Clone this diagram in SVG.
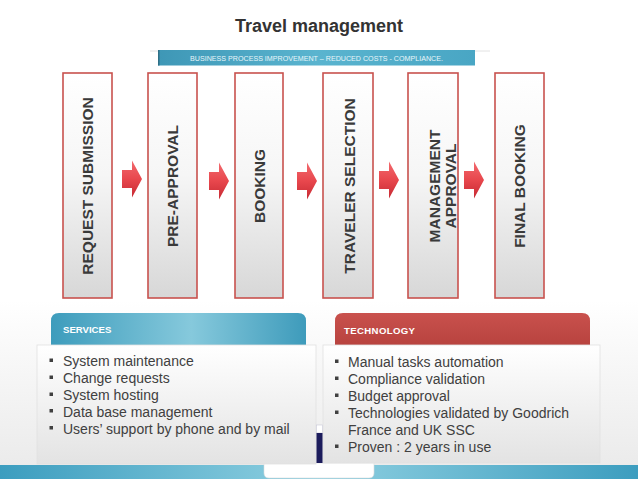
<svg xmlns="http://www.w3.org/2000/svg" width="638" height="479" viewBox="0 0 638 479">
<defs>
<style>
.title{font-family:"Liberation Sans",Arial,sans-serif;font-weight:bold;font-size:18px;fill:#333333}
.banner{font-family:"Liberation Sans",Arial,sans-serif;font-size:6.8px;fill:#e8f6fa}
.step{fill:url(#boxg);stroke:#c8524e;stroke-width:1.6}
.lbl{font-family:"Liberation Sans",Arial,sans-serif;font-weight:bold;font-size:15.5px;fill:#3a3a3a;text-anchor:middle}
.arrow{fill:url(#arrg)}
.hdr{font-family:"Liberation Sans",Arial,sans-serif;font-weight:bold;font-size:9.6px;fill:#ffffff}
.item{font-family:"Liberation Sans",Arial,sans-serif;font-size:14px;fill:#404040}
.bul{fill:#404040}
.panel{fill:url(#panelg);stroke:#e0e0e0;stroke-width:0.8}
</style>
<linearGradient id="boxg" x1="0" y1="0" x2="0" y2="1">
<stop offset="0" stop-color="#ffffff"/>
<stop offset="0.45" stop-color="#f6f6f6"/>
<stop offset="1" stop-color="#d7d7d7"/>
</linearGradient>
<linearGradient id="arrg" x1="0" y1="0" x2="0" y2="1">
<stop offset="0" stop-color="#f26a6e"/>
<stop offset="0.5" stop-color="#e8474d"/>
<stop offset="1" stop-color="#c62a33"/>
</linearGradient>
<linearGradient id="bang" x1="0" y1="0" x2="1" y2="0">
<stop offset="0" stop-color="#3e97b6"/>
<stop offset="0.5" stop-color="#5ab4cf"/>
<stop offset="1" stop-color="#49a6c4"/>
</linearGradient>
<linearGradient id="svcg" x1="0" y1="0" x2="1" y2="0">
<stop offset="0" stop-color="#3d9cbc"/>
<stop offset="0.55" stop-color="#86c9dc"/>
<stop offset="1" stop-color="#3e9bbb"/>
</linearGradient>
<linearGradient id="techg" x1="0" y1="0" x2="0" y2="1">
<stop offset="0" stop-color="#c9514d"/>
<stop offset="1" stop-color="#b8433f"/>
</linearGradient>
<linearGradient id="panelg" x1="0" y1="0" x2="0" y2="1">
<stop offset="0" stop-color="#ffffff"/>
<stop offset="1" stop-color="#e3e3e3"/>
</linearGradient>
<linearGradient id="bgg" x1="0" y1="0" x2="0" y2="1">
<stop offset="0" stop-color="#ffffff"/>
<stop offset="1" stop-color="#ebebeb"/>
</linearGradient>
<linearGradient id="stripg" x1="0" y1="0" x2="1" y2="0">
<stop offset="0" stop-color="#3c9dbf"/>
<stop offset="0.5" stop-color="#8fd0e1"/>
<stop offset="1" stop-color="#3c9dbf"/>
</linearGradient>
<path id="arr" d="M0,-9 H10 V-18.5 L20,0 L10,18.5 V9 H0 Z"/>
</defs>

<rect x="0" y="0" width="638" height="479" fill="#ffffff"/>
<rect x="0" y="300" width="638" height="165" fill="url(#bgg)"/>

<g id="title">
<text class="title" x="319" y="32" text-anchor="middle">Travel management</text>
</g>

<g id="banner">
<line x1="150" y1="51" x2="490" y2="51" stroke="#e2e2e2" stroke-width="1"/>
<rect x="158" y="50" width="317" height="15.5" fill="url(#bang)"/>
<rect x="158" y="50" width="1.5" height="15.5" fill="#2f6f86"/>
<text class="banner" x="316.5" y="60.5" text-anchor="middle" textLength="253" lengthAdjust="spacingAndGlyphs">BUSINESS PROCESS IMPROVEMENT – REDUCED COSTS - COMPLIANCE.</text>
</g>

<g id="step-request-submission">
<rect class="step" x="63" y="73" width="49" height="225"/>
<text class="lbl" transform="translate(93,186) rotate(-90)">REQUEST SUBMISSION</text>
</g>
<g id="step-pre-approval">
<rect class="step" x="148" y="73" width="49" height="225"/>
<text class="lbl" transform="translate(178,186) rotate(-90)">PRE-APPROVAL</text>
</g>
<g id="step-booking">
<rect class="step" x="235" y="73" width="48" height="225"/>
<text class="lbl" transform="translate(265,186) rotate(-90)">BOOKING</text>
</g>
<g id="step-traveler-selection">
<rect class="step" x="323" y="73" width="50" height="225"/>
<text class="lbl" transform="translate(355,186) rotate(-90)">TRAVELER SELECTION</text>
</g>
<g id="step-management-approval">
<rect class="step" x="408" y="73" width="50" height="225"/>
<text class="lbl" transform="translate(440,186) rotate(-90)">MANAGEMENT</text>
<text class="lbl" transform="translate(456,186) rotate(-90)">APPROVAL</text>
</g>
<g id="step-final-booking">
<rect class="step" x="495" y="73" width="49" height="225"/>
<text class="lbl" transform="translate(525,186) rotate(-90)">FINAL BOOKING</text>
</g>

<g id="connectors">
<use href="#arr" class="arrow" x="122" y="179"/>
<use href="#arr" class="arrow" x="209" y="181"/>
<use href="#arr" class="arrow" x="297" y="181"/>
<use href="#arr" class="arrow" x="379" y="180"/>
<use href="#arr" class="arrow" x="464" y="180"/>
</g>

<g id="bottom-strip">
<rect x="0" y="465" width="638" height="14" fill="url(#stripg)"/>
<path d="M264,463 H374 V473 Q374,478 369,478 H269 Q264,478 264,473 Z" fill="#ffffff" stroke="#dcdcdc" stroke-width="0.6"/>
</g>

<g id="services">
<path d="M51,345 V321 Q51,313 59,313 H298 Q306,313 306,321 V345 Z" fill="url(#svcg)"/>
<text class="hdr" x="63" y="333">SERVICES</text>
<rect class="panel" x="37" y="345" width="279" height="119"/>
<rect class="bul" x="49.5" y="358.5" width="3.5" height="3.5"/>
<rect class="bul" x="49.5" y="375.5" width="3.5" height="3.5"/>
<rect class="bul" x="49.5" y="392.5" width="3.5" height="3.5"/>
<rect class="bul" x="49.5" y="409" width="3.5" height="3.5"/>
<rect class="bul" x="49.5" y="426" width="3.5" height="3.5"/>
<text class="item" x="63" y="366">System maintenance</text>
<text class="item" x="63" y="383">Change requests</text>
<text class="item" x="63" y="400">System hosting</text>
<text class="item" x="63" y="416.5">Data base management</text>
<text class="item" x="63" y="433.5">Users’ support by phone and by mail</text>
</g>

<g id="technology">
<path d="M335,345 V321 Q335,313 343,313 H582 Q590,313 590,321 V345 Z" fill="url(#techg)"/>
<text class="hdr" x="344" y="334" textLength="71">TECHNOLOGY</text>
<rect class="panel" x="323" y="345" width="277" height="118"/>
<rect class="bul" x="335" y="359.5" width="3.5" height="3.5"/>
<rect class="bul" x="335" y="376.5" width="3.5" height="3.5"/>
<rect class="bul" x="335" y="393.5" width="3.5" height="3.5"/>
<rect class="bul" x="335" y="410.5" width="3.5" height="3.5"/>
<rect class="bul" x="335" y="444.5" width="3.5" height="3.5"/>
<text class="item" x="348" y="367">Manual tasks automation</text>
<text class="item" x="348" y="384">Compliance validation</text>
<text class="item" x="348" y="401">Budget approval</text>
<text class="item" x="348" y="418">Technologies validated by Goodrich</text>
<text class="item" x="348" y="435">France and UK SSC</text>
<text class="item" x="348" y="452">Proven : 2 years in use</text>
</g>

<g id="logo-strip">
<rect x="316.5" y="425" width="6" height="8" fill="#ffffff" stroke="#c8c8d8" stroke-width="0.6"/>
<rect x="316.5" y="433" width="6" height="30" fill="#1c1c5c"/>
</g>
</svg>
